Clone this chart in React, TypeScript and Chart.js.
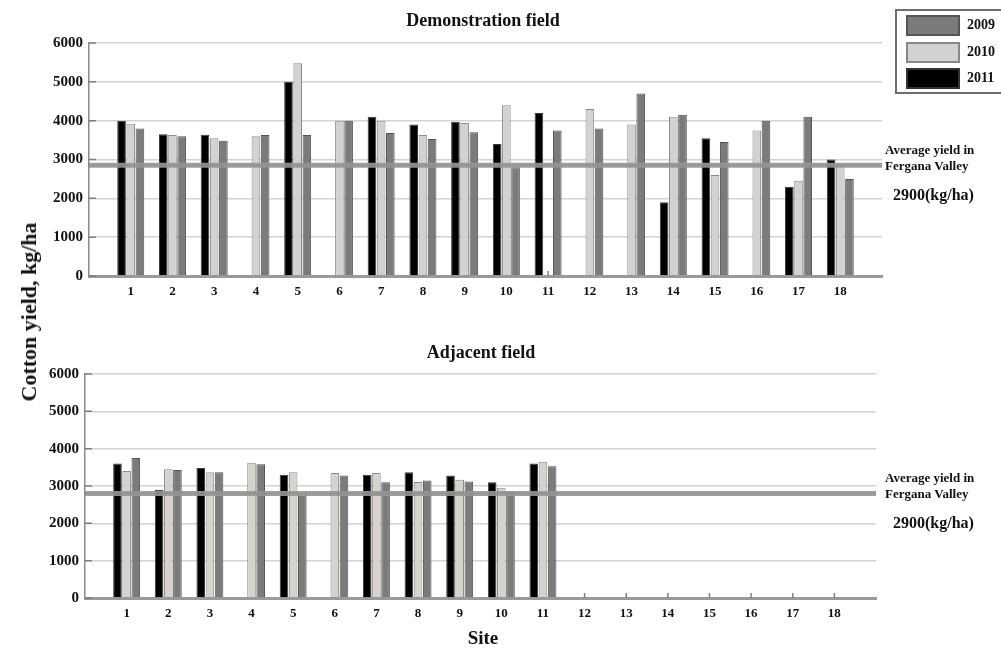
import React, { useEffect, useRef } from 'react';
import { Chart, registerables } from 'chart.js';

Chart.register(...registerables);

// ---------- data ----------
const siteLabels = ['1', '2', '3', '4', '5', '6', '7', '8', '9', '10', '11', '12', '13', '14', '15', '16', '17', '18'];
const yTicks = [0, 1000, 2000, 3000, 4000, 5000, 6000];

const demo2011 = [4000, 3650, 3640, null, 5000, null, 4100, 3900, 3970, 3400, 4200, null, null, 1900, 3550, null, 2300, 3000];
const demo2010 = [3920, 3630, 3550, 3600, 5480, 4000, 4000, 3630, 3940, 4400, null, 4300, 3900, 4100, 2600, 3750, 2450, 2900];
const demo2009 = [3800, 3600, 3480, 3630, 3630, 4000, 3680, 3530, 3700, 2800, 3750, 3800, 4700, 4150, 3450, 4000, 4100, 2500];

const adj2011 = [3600, 2900, 3480, null, 3300, null, 3300, 3370, 3280, 3100, 3600, null, null, null, null, null, null, null];
const adj2010 = [3400, 3450, 3370, 3620, 3370, 3350, 3350, 3110, 3170, 2950, 3650, null, null, null, null, null, null, null];
const adj2009 = [3750, 3430, 3370, 3580, 2780, 3280, 3100, 3150, 3120, 2860, 3530, null, null, null, null, null, null, null];

const demoAverage = 2850;
const adjAverage = 2800;

const legendYears = ['2009', '2010', '2011'];

// ---------- styles ----------
const SERIF = '"Liberation Serif", "DejaVu Serif", serif';
const COLOR_2011 = '#000000';
const COLOR_2010 = '#d2d2d2';
const COLOR_2010_ADJ = '#d6d3cc';
const COLOR_2009 = '#7b7b7b';

const decorPlugin = {
  id: 'decor',
  beforeDatasetsDraw(chart: any) {
    const { ctx, chartArea, scales } = chart;
    const xs = scales.x;
    ctx.save();
    ctx.strokeStyle = '#808080';
    ctx.lineWidth = 1.5;
    ctx.beginPath();
    for (let i = 1; i <= siteLabels.length; i++) {
      const px = xs.getPixelForValue(i);
      ctx.moveTo(px, chartArea.bottom);
      ctx.lineTo(px, chartArea.bottom - 5);
    }
    ctx.stroke();
    ctx.restore();
  },
  afterDatasetsDraw(chart: any, _args: any, opts: any) {
    const { ctx, chartArea, scales } = chart;
    const ys = scales.y;
    ctx.save();
    // average yield line
    const ay = ys.getPixelForValue(opts.avg);
    ctx.strokeStyle = 'rgba(150,150,150,0.92)';
    ctx.lineWidth = 5;
    ctx.beginPath();
    ctx.moveTo(chartArea.left, ay);
    ctx.lineTo(chartArea.right, ay);
    ctx.stroke();
    ctx.strokeStyle = 'rgba(120,120,120,0.6)';
    ctx.lineWidth = 1;
    ctx.setLineDash([2, 2]);
    ctx.beginPath();
    ctx.moveTo(chartArea.left, ay);
    ctx.lineTo(chartArea.right, ay);
    ctx.stroke();
    ctx.setLineDash([]);
    // inward y ticks
    ctx.strokeStyle = '#808080';
    ctx.lineWidth = 1.5;
    ctx.beginPath();
    ys.ticks.forEach((_t: any, i: number) => {
      const py = ys.getPixelForTick(i);
      ctx.moveTo(chartArea.left, py);
      ctx.lineTo(chartArea.left + 7, py);
    });
    ctx.stroke();
    ctx.restore();
  },
};

function pad(arr: (number | null)[]) {
  return [null, ...arr, null];
}

interface PanelProps {
  s2011: (number | null)[];
  s2010: (number | null)[];
  s2009: (number | null)[];
  avg: number;
  color2010: string;
  width: number;
  height: number;
  padding: { left: number; right: number; top: number; bottom: number };
}

function BarPanel(props: PanelProps) {
  const ref = useRef<HTMLCanvasElement | null>(null);
  useEffect(() => {
    if (!ref.current) return;
    const labels = ['', ...siteLabels, ''];
    const chart = new Chart(ref.current, {
      type: 'bar',
      data: {
        labels,
        datasets: [
          {
            label: '2011',
            data: pad(props.s2011),
            backgroundColor: COLOR_2011,
            borderColor: '#3a3a3a',
            borderWidth: 1,
          },
          {
            label: '2010',
            data: pad(props.s2010),
            backgroundColor: props.color2010,
            borderColor: '#8c8c8c',
            borderWidth: 1,
          },
          {
            label: '2009',
            data: pad(props.s2009),
            backgroundColor: COLOR_2009,
            borderColor: '#545454',
            borderWidth: 1,
          },
        ] as any,
      },
      options: {
        responsive: false,
        animation: false,
        devicePixelRatio: 1,
        layout: { padding: props.padding },
        datasets: {
          bar: { categoryPercentage: 0.66, barPercentage: 0.94 },
        } as any,
        plugins: {
          legend: { display: false },
          tooltip: { enabled: false },
          title: { display: false },
          decor: { avg: props.avg },
        } as any,
        scales: {
          x: {
            type: 'category',
            offset: false,
            grid: { display: false, drawTicks: false },
            border: { display: true, color: '#9a9a9a', width: 3 },
            ticks: {
              autoSkip: false,
              maxRotation: 0,
              padding: 8,
              color: '#111',
              font: { family: SERIF, size: 13, weight: 'bold' },
            },
            afterFit: (scale: any) => {
              scale.height = 26;
            },
          },
          y: {
            min: 0,
            max: 6000,
            afterBuildTicks: (scale: any) => {
              scale.ticks = yTicks.map((v) => ({ value: v }));
            },
            grid: { color: '#d4d4d4', lineWidth: 1.5, drawTicks: false },
            border: { display: true, color: '#8a8a8a', width: 1.5 },
            ticks: {
              padding: 6,
              color: '#111',
              font: { family: SERIF, size: 15, weight: 'bold' },
              callback: (v: any) => String(v),
            },
            afterFit: (scale: any) => {
              scale.width = 60;
            },
          },
        },
      } as any,
      plugins: [decorPlugin],
    });
    return () => chart.destroy();
  }, []);
  return <canvas ref={ref} width={props.width} height={props.height} style={{ display: 'block' }} />;
}

const textBase: React.CSSProperties = {
  position: 'absolute',
  fontFamily: SERIF,
  fontWeight: 'bold',
  color: '#111',
  whiteSpace: 'nowrap',
  lineHeight: 1,
};

function Annotation({ top }: { top: number }) {
  return (
    <>
      <div style={{ ...textBase, left: 885, top: top, fontSize: 13 }}>Average yield in</div>
      <div style={{ ...textBase, left: 885, top: top + 16, fontSize: 13 }}>Fergana Valley</div>
      <div style={{ ...textBase, left: 893, top: top + 44, fontSize: 16 }}>2900(kg/ha)</div>
    </>
  );
}

export default function App() {
  const swatchColors: Record<string, [string, string]> = {
    '2009': [COLOR_2009, '#555'],
    '2010': [COLOR_2010, '#888'],
    '2011': [COLOR_2011, '#333'],
  };
  return (
    <div
      style={{
        position: 'absolute',
        left: 0,
        top: 0,
        width: 1001,
        height: 651,
        background: '#fff',
        overflow: 'hidden',
      }}
    >
      <div style={{ position: 'absolute', left: 0, top: 0 }}>
        <BarPanel
          s2011={demo2011}
          s2010={demo2010}
          s2009={demo2009}
          avg={demoAverage}
          color2010={COLOR_2010}
          width={1001}
          height={310}
          padding={{ left: 29, right: 119, top: 43, bottom: 8 }}
        />
      </div>
      <div style={{ position: 'absolute', left: 0, top: 330 }}>
        <BarPanel
          s2011={adj2011}
          s2010={adj2010}
          s2009={adj2009}
          avg={adjAverage}
          color2010={COLOR_2010_ADJ}
          width={1001}
          height={300}
          padding={{ left: 25, right: 125, top: 44, bottom: 6 }}
        />
      </div>

      {/* titles */}
      <div style={{ ...textBase, left: 483, top: 11, fontSize: 18, transform: 'translateX(-50%)' }}>
        Demonstration field
      </div>
      <div style={{ ...textBase, left: 481, top: 343, fontSize: 18, transform: 'translateX(-50%)' }}>
        Adjacent field
      </div>

      {/* y axis label */}
      <div
        style={{
          ...textBase,
          left: 29,
          top: 312,
          fontSize: 22,
          transform: 'translate(-50%, -50%) rotate(-90deg)',
        }}
      >
        Cotton yield, kg/ha
      </div>

      {/* x axis label */}
      <div style={{ ...textBase, left: 483, top: 628, fontSize: 19, transform: 'translateX(-50%)' }}>Site</div>

      {/* legend */}
      <div
        style={{
          position: 'absolute',
          left: 895,
          top: 9,
          width: 120,
          height: 81,
          border: '2px solid #6e6e6e',
          background: '#fff',
        }}
      >
        {legendYears.map((yr, i) => (
          <div key={yr} style={{ position: 'absolute', left: 9, top: 4 + i * 26.5, height: 21 }}>
            <div
              style={{
                position: 'absolute',
                left: 0,
                top: 0,
                width: 50,
                height: 17,
                background: swatchColors[yr][0],
                border: `2px solid ${swatchColors[yr][1]}`,
              }}
            />
            <div style={{ ...textBase, left: 61, top: 3, fontSize: 14 }}>{yr}</div>
          </div>
        ))}
      </div>

      <Annotation top={143} />
      <Annotation top={471} />
    </div>
  );
}
